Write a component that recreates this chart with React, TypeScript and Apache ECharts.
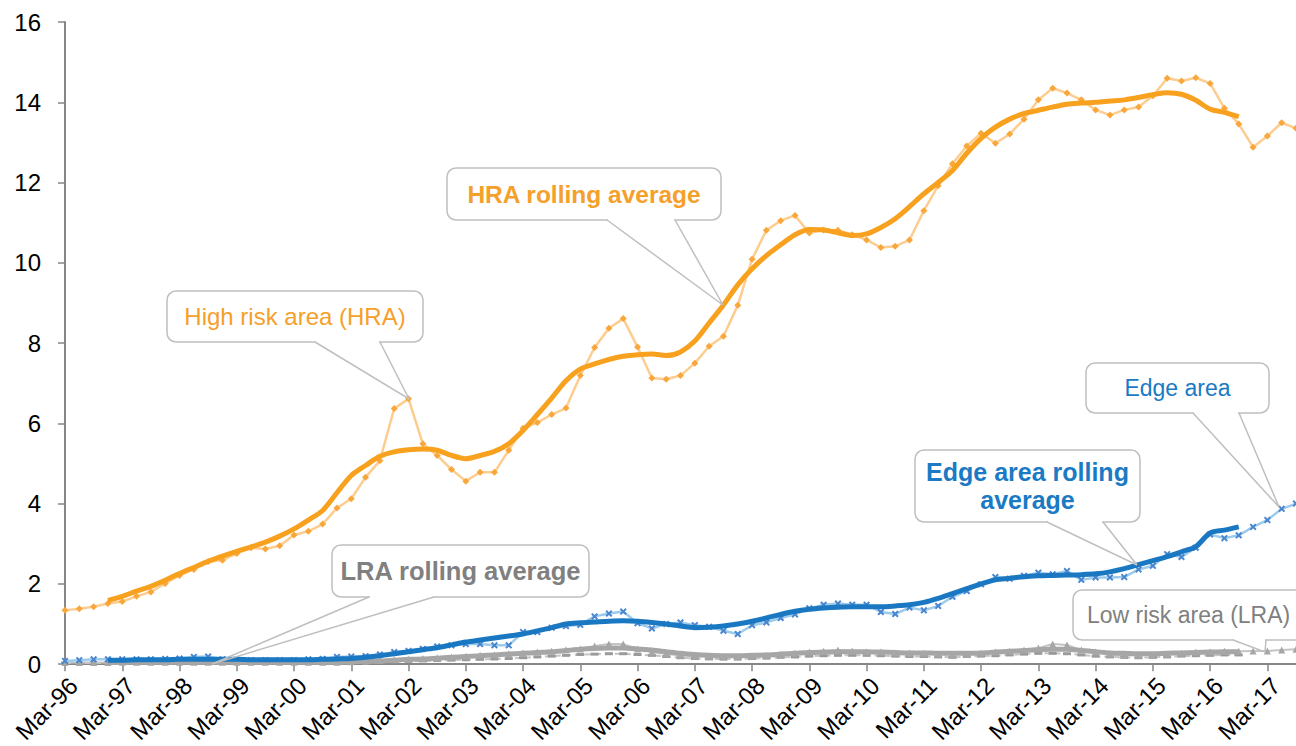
import React, { useEffect, useRef } from "react";
import * as echarts from "echarts";

const quarters = [
  "Mar-96","Jun-96","Sep-96","Dec-96","Mar-97","Jun-97","Sep-97","Dec-97",
  "Mar-98","Jun-98","Sep-98","Dec-98","Mar-99","Jun-99","Sep-99","Dec-99",
  "Mar-00","Jun-00","Sep-00","Dec-00","Mar-01","Jun-01","Sep-01","Dec-01",
  "Mar-02","Jun-02","Sep-02","Dec-02","Mar-03","Jun-03","Sep-03","Dec-03",
  "Mar-04","Jun-04","Sep-04","Dec-04","Mar-05","Jun-05","Sep-05","Dec-05",
  "Mar-06","Jun-06","Sep-06","Dec-06","Mar-07","Jun-07","Sep-07","Dec-07",
  "Mar-08","Jun-08","Sep-08","Dec-08","Mar-09","Jun-09","Sep-09","Dec-09",
  "Mar-10","Jun-10","Sep-10","Dec-10","Mar-11","Jun-11","Sep-11","Dec-11",
  "Mar-12","Jun-12","Sep-12","Dec-12","Mar-13","Jun-13","Sep-13","Dec-13",
  "Mar-14","Jun-14","Sep-14","Dec-14","Mar-15","Jun-15","Sep-15","Dec-15",
  "Mar-16","Jun-16","Sep-16","Dec-16","Mar-17","Jun-17","Sep-17"
];

const yTicks = [0, 2, 4, 6, 8, 10, 12, 14, 16];

const hraRaw = [
  1.34, 1.38, 1.43, 1.51, 1.56, 1.69, 1.80, 2.01, 2.21, 2.36, 2.56, 2.59,
  2.76, 2.90, 2.87, 2.95, 3.22, 3.31, 3.49, 3.89, 4.12, 4.66, 5.07, 6.37,
  6.61, 5.49, 5.20, 4.85, 4.56, 4.78, 4.78, 5.33, 5.88, 6.02, 6.22, 6.38,
  7.19, 7.89, 8.37, 8.61, 7.90, 7.13, 7.10, 7.19, 7.50, 7.92, 8.17, 8.94,
  10.09, 10.81, 11.05, 11.18, 10.74, 10.82, 10.81, 10.70, 10.57, 10.38, 10.41, 10.57,
  11.30, 11.92, 12.47, 12.91, 13.23, 12.98, 13.21, 13.58, 14.06, 14.35, 14.23, 14.06,
  13.81, 13.68, 13.81, 13.88, 14.16, 14.60, 14.53, 14.61, 14.47, 13.85, 13.46, 12.88,
  13.16, 13.49, 13.35
];

const hraRolling = [
  null, null, null, 1.59, 1.69, 1.82, 1.94, 2.09, 2.26, 2.41, 2.56, 2.69,
  2.81, 2.92, 3.04, 3.19, 3.37, 3.59, 3.83, 4.27, 4.70, 4.95, 5.18, 5.29,
  5.34, 5.36, 5.33, 5.20, 5.12, 5.20, 5.30, 5.49, 5.82, 6.22, 6.63, 7.06,
  7.35, 7.48, 7.59, 7.67, 7.71, 7.73, 7.69, 7.78, 8.05, 8.50, 8.95, 9.45,
  9.85, 10.18, 10.45, 10.70, 10.83, 10.82, 10.75, 10.68, 10.72, 10.88, 11.10, 11.40,
  11.72, 12.00, 12.30, 12.73, 13.10, 13.38, 13.58, 13.72, 13.80, 13.88, 13.95, 13.98,
  14.00, 14.03, 14.06, 14.12, 14.19, 14.24, 14.20, 14.05, 13.83, 13.75, 13.64, null,
  null, null, null
];

const edgeRaw = [
  0.08, 0.10, 0.12, 0.12, 0.12, 0.12, 0.12, 0.13, 0.14, 0.18, 0.19, 0.12,
  0.11, 0.10, 0.10, 0.10, 0.10, 0.12, 0.13, 0.18, 0.19, 0.20, 0.24, 0.30,
  0.33, 0.38, 0.44, 0.47, 0.50, 0.50, 0.47, 0.47, 0.80, 0.80, 0.91, 0.95,
  0.98, 1.19, 1.26, 1.31, 1.02, 0.89, 1.00, 1.04, 0.97, 0.93, 0.83, 0.75,
  0.97, 1.04, 1.15, 1.24, 1.39, 1.48, 1.51, 1.48, 1.48, 1.30, 1.25, 1.41,
  1.34, 1.45, 1.68, 1.82, 1.99, 2.17, 2.13, 2.20, 2.28, 2.24, 2.32, 2.10,
  2.16, 2.16, 2.17, 2.36, 2.45, 2.74, 2.67, 2.90, 3.23, 3.14, 3.21, 3.42,
  3.59, 3.87, 4.00
];

const edgeRolling = [
  null, null, null, 0.10, 0.10, 0.11, 0.11, 0.11, 0.12, 0.12, 0.12, 0.12,
  0.12, 0.11, 0.11, 0.11, 0.11, 0.11, 0.12, 0.13, 0.14, 0.17, 0.21, 0.26,
  0.31, 0.36, 0.41, 0.48, 0.55, 0.60, 0.65, 0.70, 0.75, 0.83, 0.91, 1.00,
  1.03, 1.05, 1.07, 1.08, 1.07, 1.04, 1.00, 0.95, 0.91, 0.92, 0.95, 1.00,
  1.07, 1.15, 1.24, 1.32, 1.37, 1.40, 1.42, 1.43, 1.43, 1.43, 1.45, 1.48,
  1.54, 1.64, 1.76, 1.88, 2.00, 2.10, 2.14, 2.18, 2.20, 2.21, 2.22, 2.23,
  2.25, 2.30, 2.38, 2.48, 2.58, 2.68, 2.80, 2.93, 3.27, 3.34, 3.42, null,
  null, null, null
];

const lraRaw = [
  0.04, 0.04, 0.04, 0.04, 0.05, 0.05, 0.05, 0.05, 0.05, 0.05, 0.05, 0.05,
  0.05, 0.05, 0.05, 0.05, 0.05, 0.05, 0.05, 0.05, 0.06, 0.07, 0.09, 0.11,
  0.12, 0.14, 0.16, 0.17, 0.20, 0.22, 0.23, 0.25, 0.28, 0.30, 0.32, 0.36,
  0.38, 0.45, 0.50, 0.50, 0.38, 0.30, 0.25, 0.22, 0.20, 0.20, 0.18, 0.18,
  0.20, 0.22, 0.24, 0.27, 0.30, 0.32, 0.35, 0.33, 0.30, 0.30, 0.28, 0.28,
  0.27, 0.25, 0.24, 0.25, 0.27, 0.30, 0.32, 0.35, 0.40, 0.50, 0.48, 0.35,
  0.30, 0.25, 0.22, 0.22, 0.23, 0.25, 0.27, 0.30, 0.30, 0.32, 0.32, 0.33,
  0.33, 0.35, 0.37
];

const lraLower = [
  0.03, 0.03, 0.03, 0.03, 0.03, 0.03, 0.03, 0.03, 0.03, 0.03, 0.03, 0.03,
  0.03, 0.03, 0.03, 0.03, 0.03, 0.03, 0.03, 0.03, 0.03, 0.04, 0.05, 0.06,
  0.07, 0.08, 0.09, 0.10, 0.11, 0.12, 0.13, 0.14, 0.16, 0.18, 0.20, 0.22,
  0.24, 0.25, 0.26, 0.26, 0.24, 0.22, 0.19, 0.16, 0.14, 0.13, 0.13, 0.13,
  0.14, 0.15, 0.17, 0.18, 0.20, 0.21, 0.22, 0.22, 0.22, 0.21, 0.20, 0.19,
  0.19, 0.18, 0.17, 0.19, 0.20, 0.21, 0.23, 0.25, 0.27, 0.27, 0.26, 0.23,
  0.20, 0.18, 0.17, 0.16, 0.17, 0.18, 0.20, 0.21, 0.22, 0.23, 0.23, null,
  null, null, null
];

const lraRolling = [
  null, null, null, 0.04, 0.04, 0.05, 0.05, 0.05, 0.05, 0.05, 0.05, 0.05,
  0.05, 0.05, 0.05, 0.05, 0.05, 0.05, 0.05, 0.05, 0.06, 0.07, 0.08, 0.10,
  0.12, 0.13, 0.15, 0.17, 0.19, 0.21, 0.23, 0.25, 0.27, 0.29, 0.31, 0.34,
  0.37, 0.39, 0.40, 0.40, 0.38, 0.35, 0.31, 0.27, 0.24, 0.22, 0.21, 0.21,
  0.22, 0.23, 0.25, 0.27, 0.29, 0.30, 0.31, 0.31, 0.31, 0.30, 0.29, 0.28,
  0.28, 0.27, 0.27, 0.27, 0.28, 0.30, 0.32, 0.34, 0.36, 0.37, 0.37, 0.34,
  0.31, 0.28, 0.27, 0.26, 0.26, 0.27, 0.28, 0.29, 0.30, 0.31, 0.31, null,
  null, null, null
];

const ORANGE = "#F7A11F";
const ORANGE_TEXT = "#F5A02A";
const ORANGE_LIGHT = "#FDCD8F";
const BLUE = "#1A78C2";
const BLUE_TEXT = "#1B7AC4";
const BLUE_LIGHT = "#9CCBEC";
const BLUE_MARK = "#4A86D0";
const GREY = "#A6A6A6";
const GREY_LIGHT = "#C4C4C4";
const GREY_TEXT = "#808080";
const BORDER = "#BFBFBF";
const FONT = "'Liberation Sans', Arial, sans-serif";

const CROSS = "path://M2,0 L5,3 L8,0 L10,2 L7,5 L10,8 L8,10 L5,7 L2,10 L0,8 L3,5 L0,2 Z";

function callout(
  box: [number, number, number, number],
  base: [number, number],
  tip: [number, number],
  text: string,
  color: string,
  bold: boolean,
  size: number,
  textPos?: [number, number, string]
) {
  const [x, y, w, h] = box;
  const by = y + h;
  const tx = textPos ? textPos[0] : x + w / 2;
  const ty = textPos ? textPos[1] : y + h / 2;
  const align = textPos ? textPos[2] : "center";
  return [
    {
      type: "rect",
      z: 100,
      shape: { x, y, width: w, height: h, r: 9 },
      style: { fill: "#ffffff", stroke: BORDER, lineWidth: 1.5 },
    },
    {
      type: "line",
      z: 101,
      shape: { x1: base[0] + 1, y1: by, x2: base[1] - 1, y2: by },
      style: { stroke: "#ffffff", lineWidth: 3 },
    },
    {
      type: "polyline",
      z: 101,
      shape: { points: [[base[0], by], tip, [base[1], by]] },
      style: { stroke: BORDER, lineWidth: 1.5, fill: null },
    },
    {
      type: "text",
      z: 102,
      x: tx,
      y: ty,
      style: {
        text,
        fill: color,
        font: `${bold ? "bold " : ""}${size}px ${FONT}`,
        align,
        verticalAlign: "middle",
        lineHeight: size * 1.15,
      },
    },
  ];
}

export default function App() {
  const ref = useRef<HTMLDivElement>(null);

  useEffect(() => {
    if (!ref.current) return;
    const chart = echarts.init(ref.current, undefined, { renderer: "svg" });

    const graphics = [
      ...callout([167, 291, 256, 51], [315, 380], [409, 399], "High risk area (HRA)", ORANGE_TEXT, false, 24),
      ...callout([447, 168, 274, 52], [607, 675], [723, 305], "HRA rolling average", ORANGE_TEXT, true, 24.5),
      ...callout([332, 545, 257, 52], [369, 434], [212, 664], "LRA rolling average", GREY_TEXT, true, 25.5),
      ...callout([915, 450, 225, 72], [1047, 1103], [1137, 565], "Edge area rolling\naverage", BLUE_TEXT, true, 25),
      ...callout([1086, 363, 183, 50], [1193, 1239], [1279, 507], "Edge area", BLUE_TEXT, false, 23),
      ...callout([1073, 590, 240, 50], [1233, 1266], [1265, 652], "Low risk area (LRA)", GREY_TEXT, false, 23, [1087, 615, "left"]),
    ];

    const option: any = {
      animation: false,
      backgroundColor: "#ffffff",
      textStyle: { fontFamily: FONT },
      grid: { left: 65, right: 0, top: 22, bottom: 81, containLabel: false },
      xAxis: {
        type: "category",
        data: quarters,
        boundaryGap: false,
        axisLine: { show: true, lineStyle: { color: "#868686", width: 2 } },
        axisTick: { show: true, interval: 3, length: 7, lineStyle: { color: "#868686", width: 1.5 } },
        axisLabel: {
          interval: 3,
          rotate: 45,
          margin: 9,
          fontSize: 24,
          color: "#000000",
          fontFamily: FONT,
          align: "right",
          verticalAlign: "top",
        },
        splitLine: { show: false },
      },
      yAxis: {
        type: "value",
        min: yTicks[0],
        max: yTicks[yTicks.length - 1],
        interval: 2,
        axisLine: { show: true, lineStyle: { color: "#868686", width: 2 } },
        axisTick: { show: true, length: 7, lineStyle: { color: "#868686", width: 1.5 } },
        axisLabel: { fontSize: 24, color: "#000000", margin: 24, fontFamily: FONT },
        splitLine: { show: false },
      },
      series: [
        {
          name: "LRA lower",
          type: "line",
          data: lraLower,
          symbol: "rect",
          symbolSize: [8, 3],
          lineStyle: { color: GREY_LIGHT, width: 2, type: [6, 4] },
          itemStyle: { color: "#9A9A9A" },
          emphasis: { disabled: true },
          z: 1,
        },
        {
          name: "Low risk area (LRA)",
          type: "line",
          data: lraRaw,
          symbol: "triangle",
          symbolSize: 7,
          lineStyle: { color: GREY_LIGHT, width: 2 },
          itemStyle: { color: GREY },
          emphasis: { disabled: true },
          z: 2,
        },
        {
          name: "Edge area",
          type: "line",
          data: edgeRaw,
          symbol: CROSS,
          symbolSize: 7,
          lineStyle: { color: BLUE_LIGHT, width: 2.5 },
          itemStyle: { color: BLUE_MARK },
          emphasis: { disabled: true },
          z: 2,
        },
        {
          name: "High risk area (HRA)",
          type: "line",
          data: hraRaw,
          symbol: "diamond",
          symbolSize: 7,
          lineStyle: { color: ORANGE_LIGHT, width: 2.5 },
          itemStyle: { color: "#F9A73A" },
          emphasis: { disabled: true },
          z: 2,
        },
        {
          name: "LRA rolling average",
          type: "line",
          data: lraRolling,
          showSymbol: false,
          smooth: 0.3,
          lineStyle: { color: GREY, width: 5 },
          emphasis: { disabled: true },
          z: 3,
        },
        {
          name: "Edge area rolling average",
          type: "line",
          data: edgeRolling,
          showSymbol: false,
          smooth: 0.3,
          lineStyle: { color: BLUE, width: 5 },
          emphasis: { disabled: true },
          z: 3,
        },
        {
          name: "HRA rolling average",
          type: "line",
          data: hraRolling,
          showSymbol: false,
          smooth: 0.3,
          lineStyle: { color: ORANGE, width: 5 },
          emphasis: { disabled: true },
          z: 3,
        },
      ],
      graphic: graphics,
    };

    chart.setOption(option);
    return () => chart.dispose();
  }, []);

  return (
    <div
      ref={ref}
      style={{ position: "fixed", left: 0, top: 0, width: 1296, height: 746, background: "#fff" }}
    />
  );
}
